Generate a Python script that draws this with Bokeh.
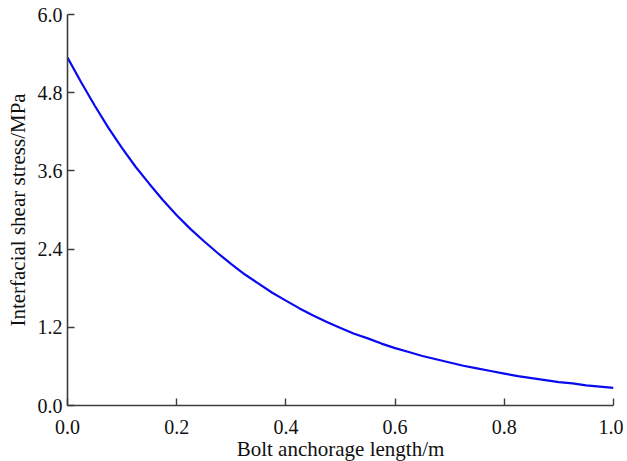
from bokeh.plotting import figure
from bokeh.models import Range1d, FixedTicker, NumeralTickFormatter
from bokeh.embed import file_html
from bokeh.resources import INLINE

# Bolt anchorage length (m) and interfacial shear stress (MPa)
length_m = [0.000, 0.025, 0.050, 0.075, 0.100, 0.125, 0.150, 0.175, 0.200, 0.225,
            0.250, 0.275, 0.300, 0.325, 0.350, 0.375, 0.400, 0.425, 0.450, 0.475,
            0.500, 0.525, 0.550, 0.575, 0.600, 0.625, 0.650, 0.675, 0.700, 0.725,
            0.750, 0.775, 0.800, 0.825, 0.850, 0.875, 0.900, 0.925, 0.950, 0.975,
            1.000]
stress_mpa = [5.34, 4.96, 4.60, 4.26, 3.95, 3.66, 3.40, 3.15, 2.92, 2.71,
              2.52, 2.34, 2.17, 2.01, 1.87, 1.73, 1.61, 1.49, 1.38, 1.28,
              1.19, 1.10, 1.03, 0.95, 0.88, 0.82, 0.76, 0.71, 0.66, 0.61,
              0.57, 0.53, 0.49, 0.45, 0.42, 0.39, 0.36, 0.34, 0.31, 0.29,
              0.27]

x_ticks = [0.0, 0.2, 0.4, 0.6, 0.8, 1.0]
y_ticks = [0.0, 1.2, 2.4, 3.6, 4.8, 6.0]

FONT = "Liberation Serif"

p = figure(frame_width=546, frame_height=391, output_backend="svg", toolbar_location=None,
           x_range=Range1d(0, 1.0), y_range=Range1d(0, 6.0),
           min_border_left=67, min_border_right=10, min_border_top=14, min_border_bottom=45)

p.line(length_m, stress_mpa, line_color="#0a0af0", line_width=2.2)

p.outline_line_color = None
p.grid.visible = False
p.background_fill_color = "white"
p.border_fill_color = "white"

for ax in (p.xaxis[0], p.yaxis[0]):
    ax.axis_line_color = "#3c3c3c"
    ax.axis_line_width = 1.6
    ax.major_tick_line_color = "#3c3c3c"
    ax.major_tick_line_width = 1.4
    ax.major_tick_in = 7
    ax.major_tick_out = 0
    ax.minor_tick_line_color = None
    ax.major_label_text_font = FONT
    ax.major_label_text_font_size = "20px"
    ax.major_label_text_color = "#111111"
    ax.axis_label_text_font = FONT
    ax.axis_label_text_font_size = "21px"
    ax.axis_label_text_font_style = "normal"
    ax.axis_label_text_color = "#111111"
    ax.formatter = NumeralTickFormatter(format="0.0")

p.xaxis[0].ticker = FixedTicker(ticks=x_ticks)
p.yaxis[0].ticker = FixedTicker(ticks=y_ticks)
p.xaxis[0].axis_label = "Bolt anchorage length/m"
p.yaxis[0].axis_label = "Interfacial shear stress/MPa"
p.xaxis[0].major_label_standoff = 14
p.xaxis[0].axis_label_standoff = 0
p.yaxis[0].major_label_standoff = 5
p.yaxis[0].axis_label_standoff = 5

open("out.html", "w").write(file_html(p, INLINE))
